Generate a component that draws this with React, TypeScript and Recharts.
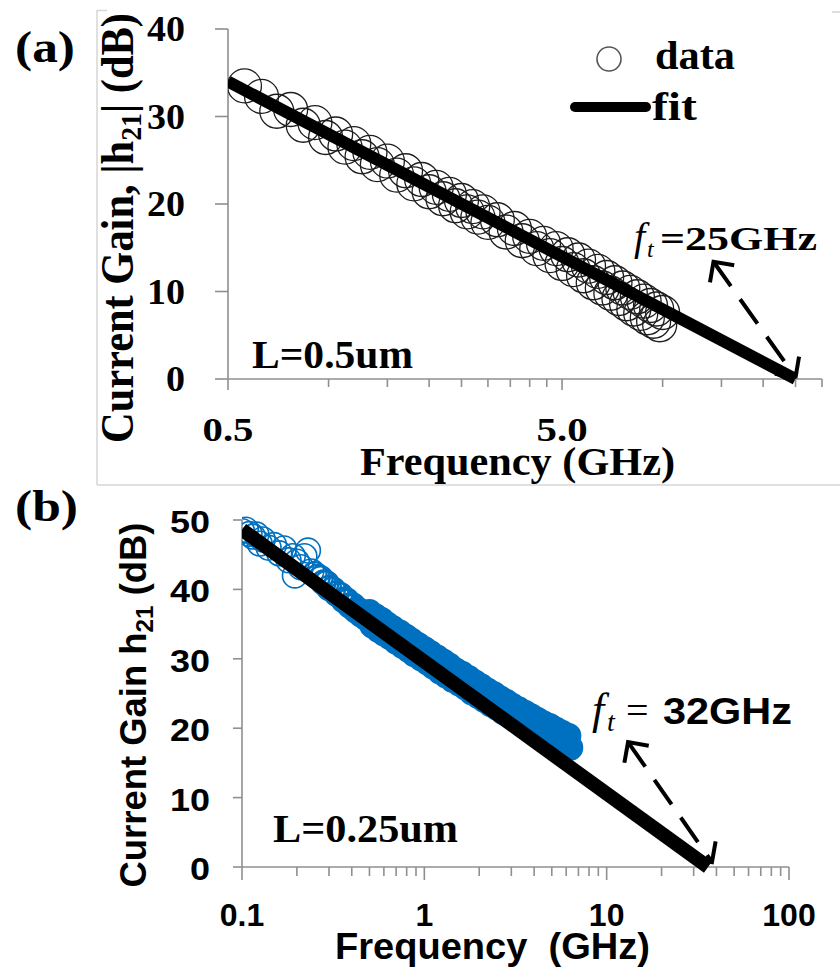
import React from 'react';
import { ComposedChart, Scatter, XAxis, YAxis, ReferenceLine } from 'recharts';

// ---------- Panel (a) data ----------
const freqA = [0.56, 0.63, 0.7, 0.77, 0.84, 0.91, 0.98, 1.05, 1.12, 1.19, 1.26, 1.33, 1.4,
  1.5, 1.6, 1.7, 1.8, 1.9, 2.0, 2.1, 2.2, 2.3, 2.4, 2.5, 2.6, 2.7, 2.8, 2.9, 3.0,
  3.2, 3.4, 3.6, 3.8, 4.0, 4.2, 4.4, 4.6, 4.8, 5.0, 5.2, 5.4, 5.6, 5.8, 6.0, 6.2, 6.4, 6.6, 6.8,
  7.0, 7.2, 7.4, 7.6, 7.8, 8.0, 8.2, 8.4, 8.6, 8.8, 9.0, 9.2, 9.4, 9.6, 9.8, 10.0];
const gainA = [33.5, 32.3, 30.6, 30.8, 29.0, 29.3, 27.6, 28.0, 26.5, 26.9,
  25.4, 25.9, 24.5, 24.9, 23.3, 23.8, 22.3, 22.8, 21.4, 21.9,
  20.6, 21.1, 19.8, 20.4, 19.1, 19.7, 18.5, 19.1, 17.9, 18.2,
  16.8, 17.2, 15.8, 16.3, 14.9, 15.5, 14.1, 14.9, 13.2, 14.2,
  12.5, 13.6, 11.8, 12.9, 11.0, 12.3, 10.4, 11.6, 9.8, 11.0,
  9.2, 10.4, 8.6, 9.9, 8.0, 9.4, 7.5, 8.9, 7.0, 8.4,
  6.6, 8.0, 6.2, 7.6];
const fitFreqA = [0.5, 25];
const fitGainA = [34, 0];
const xTicksA = [0.5, 1, 1.5, 2, 2.5, 3, 3.5, 4, 4.5, 5, 10, 15, 20, 25, 30];
const xMajorA = [0.5, 5];
const xLabelsA = ['0.5', '5.0'];
const yTicksA = [0, 10, 20, 30, 40];
const arrowA = [{ x: 14.2, y: 13.4 }, { x: 25, y: 0.2 }];

// ---------- Panel (b) data ----------
const freqB = [0.1, 0.105, 0.11, 0.115, 0.12, 0.125, 0.13, 0.14, 0.15, 0.16, 0.17, 0.18, 0.19, 0.195,
  0.2, 0.21, 0.22, 0.23, 0.24, 0.25, 0.26, 0.27, 0.28, 0.29, 0.3, 0.315, 0.33, 0.345, 0.36, 0.375,
  0.39, 0.405, 0.42, 0.435, 0.45, 0.465, 0.48,
  0.5, 0.52, 0.54, 0.56, 0.58, 0.6, 0.62, 0.645, 0.67, 0.7, 0.73, 0.76, 0.79, 0.82, 0.85, 0.88,
  0.92, 0.96, 1.0, 1.04, 1.08, 1.12, 1.17, 1.22, 1.27, 1.32, 1.37, 1.43, 1.49, 1.55, 1.61, 1.68,
  1.75, 1.82, 1.89, 1.97, 2.05, 2.13, 2.22, 2.31, 2.4, 2.5, 2.6, 2.7, 2.81, 2.92, 3.04, 3.16, 3.29,
  3.42, 3.56, 3.7, 3.85, 4.0, 4.16, 4.33, 4.5, 4.68, 4.87, 5.06, 5.26, 5.47, 5.69, 5.92, 6.15, 6.3];
const gainB = [48.4, 48.6, 48.0, 47.6, 47.9, 46.6, 47.2, 46.0, 46.4, 45.2, 45.9, 44.2, 44.8, 42.0,
  44.0, 43.2, 44.8, 45.6, 42.6, 42.2, 41.8, 41.6, 41.0, 40.9, 40.2, 40.0, 39.4, 39.2, 38.5, 38.4,
  37.7, 37.7, 37.0, 37.0, 36.4, 36.5, 35.9,
  36.7, 34.8, 36.1, 34.2, 35.6, 33.7, 35.0, 33.2, 34.4, 32.5, 33.8, 31.9, 33.2, 31.3, 32.6, 30.7,
  32.0, 30.1, 31.4, 29.5, 30.8, 28.9, 30.2, 28.2, 29.6, 27.6, 29.0, 27.0, 28.3, 26.5, 27.8, 25.9,
  27.2, 25.2, 26.6, 24.7, 26.0, 24.1, 25.4, 23.5, 24.9, 23.0, 24.3, 22.4, 23.8, 21.9, 23.2, 21.3, 22.7,
  20.8, 22.2, 20.3, 21.7, 19.8, 21.2, 19.3, 20.7, 18.9, 20.3, 18.4, 19.8, 18.0, 19.3, 17.5, 18.9, 17.2];
const fitFreqB = [0.1, 36];
const fitGainB = [48.6, 0];
const xTicksB = [0.1, 0.2, 0.3, 0.4, 0.5, 0.6, 0.7, 0.8, 0.9, 1, 2, 3, 4, 5, 6, 7, 8, 9,
  10, 20, 30, 40, 50, 60, 70, 80, 90, 100];
const xMajorB = [0.1, 1, 10, 100];
const xLabelsB = ['0.1', '1', '10', '100'];
const yTicksB = [0, 10, 20, 30, 40, 50];
const arrowB = [{ x: 13.1, y: 18.0 }, { x: 37.8, y: 0.7 }];

// ---------- styles ----------
const SERIF = "'Liberation Serif', 'Times New Roman', serif";
const SANS = "'Liberation Sans', Arial, sans-serif";
const AXIS = '#8f8f8f';
const BLUE = '#0070C0';

const dataA = freqA.map((f, i) => ({ f, g: gainA[i] }));
const fitA = fitFreqA.map((f, i) => ({ f, g: fitGainA[i] }));
const dataB = freqB.map((f, i) => ({ f, g: gainB[i] }));
const fitB = fitFreqB.map((f, i) => ({ f, g: fitGainB[i] }));

const XTickA = (p: any) => {
  const v = p.payload.value;
  const k = xMajorA.indexOf(v);
  return (
    <g>
      <line x1={p.x} x2={p.x} y1={p.y} y2={p.y + (k >= 0 ? 11 : 8)} stroke={AXIS} strokeWidth={1.6} />
      {k >= 0 && (
        <text x={p.x} y={p.y + 62} textAnchor="middle" fontFamily={SERIF} fontWeight="bold" fontSize={34}
          textLength={51} lengthAdjust="spacingAndGlyphs" fill="#000">{xLabelsA[k]}</text>
      )}
    </g>
  );
};
const YTickA = (p: any) => {
  const s = String(p.payload.value);
  return (
    <g>
      <line x1={p.x - 13} x2={p.x} y1={p.y} y2={p.y} stroke={AXIS} strokeWidth={1.6} />
      <text x={p.x - 43} y={p.y + 12} textAnchor="end" fontFamily={SERIF} fontWeight="bold" fontSize={35}
        textLength={19 * s.length} lengthAdjust="spacingAndGlyphs" fill="#000">{s}</text>
    </g>
  );
};
const XTickB = (p: any) => {
  const v = p.payload.value;
  const k = xMajorB.indexOf(v);
  return (
    <g>
      <line x1={p.x} x2={p.x} y1={p.y} y2={p.y + (k >= 0 ? 13 : 9)} stroke={AXIS} strokeWidth={1.6} />
      {k >= 0 && (
        <text x={p.x} y={p.y + 59} textAnchor="middle" fontFamily={SANS} fontWeight="bold" fontSize={32}
          fill="#000">{xLabelsB[k]}</text>
      )}
    </g>
  );
};
const YTickB = (p: any) => {
  const s = String(p.payload.value);
  return (
    <g>
      <line x1={p.x - 9} x2={p.x} y1={p.y} y2={p.y} stroke={AXIS} strokeWidth={1.6} />
      <text x={p.x - 32} y={p.y + 13} textAnchor="end" fontFamily={SANS} fontWeight="bold" fontSize={32}
        textLength={20 * s.length} lengthAdjust="spacingAndGlyphs" fill="#000">{s}</text>
    </g>
  );
};

const ringA = (p: any) => (
  <circle cx={p.cx} cy={p.cy} r={17} fill="none" stroke="#1e1e1e" strokeWidth={1.3} />
);
const ringB = (p: any) => {
  const f = p.payload ? p.payload.f : 1;
  const sw = f < 0.25 ? 1.6 : f < 0.35 ? 2.4 : f < 0.45 ? 3.6 : f < 0.6 ? 5.5 : 8;
  return <circle cx={p.cx} cy={p.cy} r={13.2 - sw / 2} fill="none" stroke={BLUE} strokeWidth={sw} />;
};
const noDot = () => <g />;

const arrowShape = (p: any) => {
  const { x1, y1, x2, y2 } = p;
  if ([x1, y1, x2, y2].some((v) => typeof v !== 'number' || isNaN(v))) return <g />;
  const ang = Math.atan2(y2 - y1, x2 - x1);
  const head = (x: number, y: number, a: number) => {
    const L = 21;
    const s = Math.PI / 4;
    const pa = `${x - L * Math.cos(a - s)},${y - L * Math.sin(a - s)}`;
    const pb = `${x - L * Math.cos(a + s)},${y - L * Math.sin(a + s)}`;
    return <polyline points={`${pa} ${x},${y} ${pb}`} fill="none" stroke="#000" strokeWidth={4} />;
  };
  return (
    <g>
      <line x1={x1} y1={y1} x2={x2} y2={y2} stroke="#000" strokeWidth={4} strokeDasharray="30 16" />
      {head(x1, y1, ang + Math.PI)}
      {head(x2, y2, ang)}
    </g>
  );
};

const ChartA = () => (
  <ComposedChart width={840} height={485} margin={{ top: 29, right: 18, bottom: 0, left: 0 }}>
    <XAxis dataKey="f" type="number" scale="log" domain={[0.5, 30]} ticks={xTicksA} interval={0}
      height={106} tickSize={0} tickMargin={0} tickLine={false} tick={XTickA}
      axisLine={{ stroke: AXIS, strokeWidth: 1.6 }} allowDataOverflow />
    <YAxis dataKey="g" type="number" domain={[0, 40]} ticks={yTicksA} interval={0}
      width={228} tickSize={0} tickMargin={0} tickLine={false} tick={YTickA}
      axisLine={{ stroke: AXIS, strokeWidth: 1.6 }} />
    <Scatter name="data" data={dataA} dataKey="g" shape={ringA} isAnimationActive={false} />
    <Scatter name="fit" data={fitA} dataKey="g" shape={noDot} line={{ stroke: '#000', strokeWidth: 12 }}
      isAnimationActive={false} />
    <ReferenceLine segment={arrowA} ifOverflow="visible" shape={arrowShape} />
  </ComposedChart>
);

const ChartB = () => (
  <ComposedChart width={840} height={484} margin={{ top: 35, right: 51, bottom: 0, left: 0 }}>
    <XAxis dataKey="f" type="number" scale="log" domain={[0.1, 100]} ticks={xTicksB} interval={0}
      height={102} tickSize={0} tickMargin={0} tickLine={false} tick={XTickB}
      axisLine={{ stroke: AXIS, strokeWidth: 1.6 }} allowDataOverflow />
    <YAxis dataKey="g" type="number" domain={[0, 50]} ticks={yTicksB} interval={0}
      width={242} tickSize={0} tickMargin={0} tickLine={false} tick={YTickB}
      axisLine={{ stroke: AXIS, strokeWidth: 1.6 }} />
    <Scatter name="data" data={dataB} dataKey="g" shape={ringB} isAnimationActive={false} />
    <Scatter name="fit" data={fitB} dataKey="g" shape={noDot} line={{ stroke: '#000', strokeWidth: 14 }}
      isAnimationActive={false} />
    <ReferenceLine segment={arrowB} ifOverflow="visible" shape={arrowShape} />
  </ComposedChart>
);

const Overlay = () => (
  <svg width={840} height={969} style={{ position: 'absolute', left: 0, top: 0, pointerEvents: 'none' }}>
    {/* frame of panel (a) */}
    <line x1={97} y1={10} x2={97} y2={485} stroke="#d6d6d6" strokeWidth={1.5} />
    <line x1={97} y1={485} x2={840} y2={485} stroke="#d6d6d6" strokeWidth={1.5} />
    <line x1={97} y1={10.5} x2={107} y2={10.5} stroke="#d6d6d6" strokeWidth={1.5} />
    <line x1={832} y1={12} x2={840} y2={12} stroke="#d6d6d6" strokeWidth={1.5} />

    {/* panel (a) texts */}
    <text x={15} y={62} fontFamily={SERIF} fontWeight="bold" fontSize={44} textLength={60}
      lengthAdjust="spacingAndGlyphs">(a)</text>
    <text x={133} y={228} transform="rotate(-90 133 228)" textAnchor="middle" fontFamily={SERIF}
      fontWeight="bold" fontSize={46} textLength={430} lengthAdjust="spacingAndGlyphs">
      Current Gain, |h<tspan dy={8} fontSize={30}>21</tspan><tspan dy={-8}>| (dB)</tspan>
    </text>
    <text x={360} y={475} fontFamily={SERIF} fontWeight="bold" fontSize={39} textLength={315}
      lengthAdjust="spacingAndGlyphs">Frequency (GHz)</text>
    <text x={252} y={368} fontFamily={SERIF} fontWeight="bold" fontSize={40} textLength={161}
      lengthAdjust="spacingAndGlyphs">L=0.5um</text>
    <circle cx={609} cy={59} r={12} fill="none" stroke="#555" strokeWidth={1.6} />
    <text x={655} y={69} fontFamily={SERIF} fontWeight="bold" fontSize={40} textLength={80}
      lengthAdjust="spacingAndGlyphs">data</text>
    <line x1={575} y1={107} x2={646} y2={107} stroke="#000" strokeWidth={10} strokeLinecap="round" />
    <text x={652} y={120} fontFamily={SERIF} fontWeight="bold" fontSize={40} textLength={45}
      lengthAdjust="spacingAndGlyphs">fit</text>
    <text x={634} y={250} fontFamily={SERIF} fontStyle="italic" fontSize={40}>f</text>
    <text x={647} y={257} fontFamily={SERIF} fontStyle="italic" fontSize={24}>t</text>
    <text x={660} y={250} fontFamily={SERIF} fontWeight="bold" fontSize={34} textLength={157}
      lengthAdjust="spacingAndGlyphs">=25GHz</text>

    {/* panel (b) texts */}
    <text x={15} y={521} fontFamily={SERIF} fontWeight="bold" fontSize={44} textLength={63}
      lengthAdjust="spacingAndGlyphs">(b)</text>
    <text x={146} y={705} transform="rotate(-90 146 705)" textAnchor="middle" fontFamily={SANS}
      fontWeight="bold" fontSize={36} textLength={365} lengthAdjust="spacingAndGlyphs">
      Current Gain h<tspan dy={7} fontSize={24}>21</tspan><tspan dy={-7}> (dB)</tspan>
    </text>
    <text x={335} y={959} fontFamily={SANS} fontWeight="bold" fontSize={37} textLength={315}
      lengthAdjust="spacingAndGlyphs" style={{ whiteSpace: 'pre' }}>Frequency  (GHz)</text>
    <text x={273} y={842} fontFamily={SERIF} fontWeight="bold" fontSize={40} textLength={185}
      lengthAdjust="spacingAndGlyphs">L=0.25um</text>
    <text x={592} y={724} fontFamily={SERIF} fontStyle="italic" fontSize={44}>f</text>
    <text x={607} y={731} fontFamily={SERIF} fontStyle="italic" fontSize={28}>t</text>
    <text x={626} y={724} fontFamily={SERIF} fontSize={40}>=</text>
    <text x={663} y={724} fontFamily={SANS} fontWeight="bold" fontSize={37} textLength={129}
      lengthAdjust="spacingAndGlyphs">32GHz</text>
  </svg>
);

export default function App() {
  return (
    <div style={{ position: 'absolute', left: 0, top: 0, width: 840, height: 969, background: '#fff' }}>
      <div style={{ position: 'absolute', left: 0, top: 0 }}>
        <ChartA />
      </div>
      <div style={{ position: 'absolute', left: 0, top: 485 }}>
        <ChartB />
      </div>
      <Overlay />
    </div>
  );
}
